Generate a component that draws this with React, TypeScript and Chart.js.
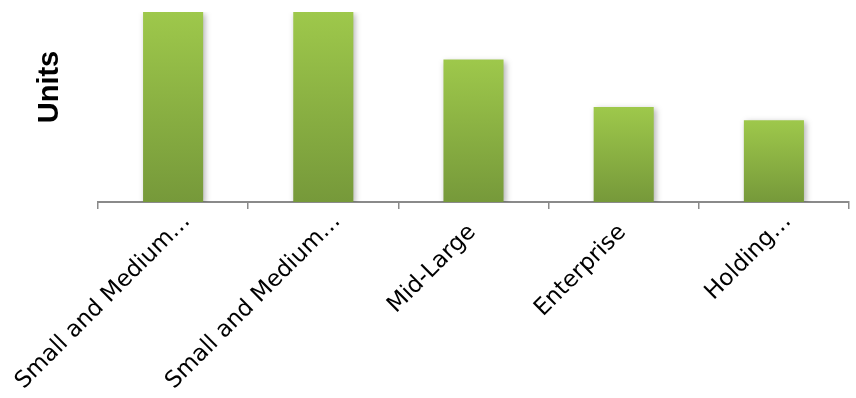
import { useEffect, useRef } from "react";
import { Chart, registerables } from "chart.js";

Chart.register(...registerables);

const categories = ["Small and Medium…", "Small and Medium…", "Mid-Large", "Enterprise", "Holding…"];
const units = [100, 100, 75, 50, 43];
const axisTitle = "Units";
const yMin = 0;
const yMax = 100;

const barTop = "#9ec84b";
const barBottom = "#76993a";
const axisGray = "#8a8a8a";

// Soft drop shadow behind the bars.
const barShadow = {
  id: "barShadow",
  beforeDatasetsDraw(chart: any) {
    const ctx = chart.ctx;
    ctx.save();
    ctx.shadowColor = "rgba(0,0,0,0.30)";
    ctx.shadowBlur = 6;
    ctx.shadowOffsetX = 2;
    ctx.shadowOffsetY = 2;
  },
  afterDatasetsDraw(chart: any) {
    chart.ctx.restore();
  },
};

// Rotated category labels and the vertical axis title.
const labelsAndTitle = {
  id: "labelsAndTitle",
  afterDraw(chart: any) {
    const ctx = chart.ctx;
    const xs = chart.scales.x;
    const axisY = xs.top;
    ctx.save();
    ctx.fillStyle = "#000";
    ctx.font = '23px "DejaVu Sans"';
    ctx.textAlign = "right";
    ctx.textBaseline = "alphabetic";
    categories.forEach((label, i) => {
      const cx = xs.getPixelForValue(i);
      const clipped = label.endsWith("…");
      const dx = clipped ? 18 : 3;
      const dy = clipped ? 20 : 31;
      ctx.save();
      ctx.translate(cx + dx, axisY + dy);
      ctx.rotate(-Math.PI / 4);
      ctx.fillText(label, 0, 0);
      ctx.restore();
    });

    ctx.font = 'bold 29px "Liberation Sans"';
    ctx.textAlign = "center";
    ctx.translate(58, 87);
    ctx.rotate(-Math.PI / 2);
    ctx.fillText(axisTitle, 0, 0);
    ctx.restore();
  },
};

export default function App() {
  const canvasRef = useRef<HTMLCanvasElement | null>(null);

  useEffect(() => {
    document.body.style.margin = "0";
    const canvas = canvasRef.current;
    if (!canvas) return;
    const chart = new Chart(canvas, {
      type: "bar",
      data: {
        labels: categories,
        datasets: [
          {
            data: units,
            barPercentage: 0.4,
            categoryPercentage: 1.0,
            borderWidth: 0,
            backgroundColor: (context: any) => {
              const c = context.chart;
              const area = c.chartArea;
              if (!area || context.raw == null) return barTop;
              const y = c.scales.y;
              const top = y.getPixelForValue(context.raw);
              const base = y.getPixelForValue(yMin);
              if (!isFinite(top) || !isFinite(base) || top === base) return barTop;
              const g = c.ctx.createLinearGradient(0, top, 0, base);
              g.addColorStop(0, barTop);
              g.addColorStop(1, barBottom);
              return g;
            },
          },
        ],
      },
      options: {
        animation: false,
        responsive: true,
        maintainAspectRatio: false,
        events: [],
        layout: { padding: { left: 98, right: 7, top: 12, bottom: 189 } },
        plugins: {
          legend: { display: false },
          tooltip: { enabled: false },
        },
        scales: {
          x: {
            grid: {
              display: true,
              drawOnChartArea: false,
              drawTicks: true,
              tickLength: 7,
              color: axisGray,
              lineWidth: 1.5,
              offset: true,
            },
            border: { display: true, color: axisGray, width: 2 },
            ticks: { display: false },
          },
          y: {
            display: false,
            min: yMin,
            max: yMax,
          },
        },
      },
      plugins: [barShadow, labelsAndTitle],
    });
    return () => chart.destroy();
  }, []);

  return (
    <div style={{ position: "relative", width: 856, height: 398 }}>
      <canvas ref={canvasRef} />
    </div>
  );
}
